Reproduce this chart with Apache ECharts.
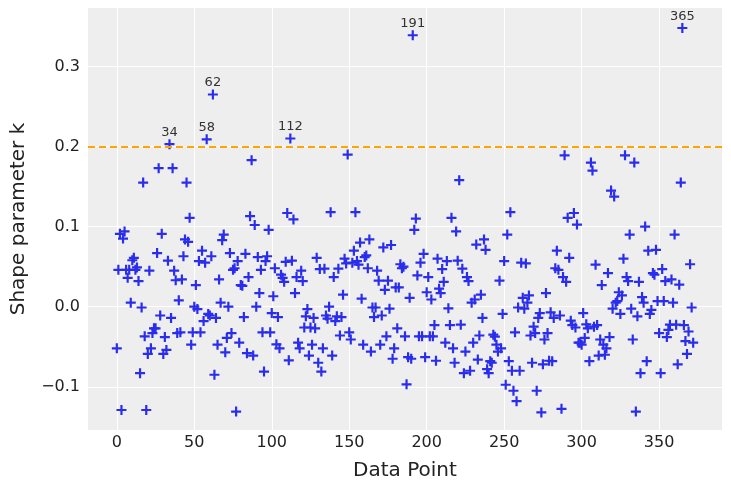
<!DOCTYPE html>
<html>
<head>
<meta charset="utf-8">
<script src="https://cdn.jsdelivr.net/npm/echarts@6/dist/echarts.min.js"></script>
<style>html,body{margin:0;padding:0;background:#fff}#c{width:731px;height:491px}</style>
</head>
<body>
<div id="c"></div>
<script>
// Pareto shape parameter k for each data point (index = position)
const kValues = [
  -0.052, 0.046, 0.091, -0.129, 0.085, 0.094, 0.046, 0.036, 0.046, 0.005,
  0.058, 0.061, 0.046, 0.049, 0.032, -0.083, -0.001, 0.155, -0.037, -0.129,
  -0.059, 0.045, -0.052, -0.033, -0.027,
  -0.027, 0.067, 0.173, -0.011, 0.091, -0.059, -0.038, -0.054, 0.0575, 0.203,
  -0.014, 0.173, 0.045, 0.033, -0.033, 0.008, -0.032, 0.034, 0.063, 0.084,
  0.155, 0.081, 0.111, -0.0475, -0.032, 0.000, 0.027, -0.003, 0.057, -0.032,
  0.070, -0.018, 0.055,
  0.209, -0.009, -0.011, 0.063, 0.265, -0.085, -0.014, -0.0475, 0.034, 0.005,
  0.083, 0.090, -0.057, -0.039, 0.000, 0.067, -0.033, 0.046, 0.048, -0.131,
  0.057, -0.045, 0.027, 0.026, -0.013, 0.066, -0.058, 0.037, 0.113, 0.183,
  -0.061, 0.102,
  0.000, 0.062, 0.017, 0.046, -0.032, -0.081, 0.057, 0.063, 0.096, -0.032,
  -0.008, 0.013, 0.048, -0.047, -0.013, -0.052, 0.040, 0.036, 0.031, 0.056,
  0.117, -0.067, 0.210, 0.0575, 0.109, 0.017, 0.037, -0.045, -0.052, 0.045,
  0.032,
  -0.026, -0.012, -0.003, -0.061, -0.026, -0.0475, -0.014, -0.027, 0.061, -0.070,
  0.047, -0.081, -0.052, 0.0475, -0.011, -0.015, 0.000, 0.118, -0.061, 0.037,
  -0.018, -0.012, 0.0475, -0.036, -0.013, 0.015, 0.060, 0.054, 0.190, -0.032,
  -0.041,
  0.055, 0.070, 0.118, 0.057, 0.0525, 0.080, 0.010, -0.0475, 0.062, 0.064,
  0.048, 0.084, -0.056, -0.001, -0.013, -0.001, 0.045, 0.0325, -0.0475, -0.011,
  0.074, 0.021, -0.037, 0.0325, -0.0025, 0.077, -0.065, -0.052, 0.024, -0.027,
  0.024,
  0.053, 0.048, 0.050, -0.037, -0.097, -0.063, 0.011, -0.065, 0.339, 0.096,
  0.110, 0.039, -0.037, 0.055, -0.037, 0.066, -0.063, 0.018, 0.037, -0.037,
  0.009, -0.037, -0.023, -0.0675, 0.060, 0.0225, 0.017, 0.047, 0.031, -0.045,
  0.057, -0.002,
  -0.023, 0.111, -0.052, -0.070, 0.094, 0.0575, 0.158, -0.0225, 0.0475, -0.083,
  -0.056, 0.037, 0.032, -0.080, 0.005, -0.045, 0.009, 0.0775, -0.066, -0.036,
  0.015, -0.014, 0.084, 0.071, -0.078, -0.083, -0.068, -0.070, -0.035, -0.0375,
  -0.0475, -0.056,
  0.0325, -0.052, -0.009, 0.057, -0.0975, 0.090, -0.068, 0.118, -0.080, -0.105,
  -0.032, -0.118, -0.001, -0.080, 0.055, 0.011, -0.0025, 0.054, 0.005, 0.014,
  -0.036, -0.070, -0.025, -0.033, -0.105, -0.014, -0.008, -0.132, -0.072, -0.041,
  0.017,
  -0.033, -0.0675, -0.007, -0.068, -0.014, 0.048, 0.070, 0.046, -0.011, -0.1275,
  0.037, 0.189, 0.031, 0.111, 0.061, -0.0175, -0.023, 0.117, -0.026, 0.1025,
  -0.045, -0.045, -0.0475, -0.008, -0.039, -0.022, -0.027, -0.068, 0.180, 0.170,
  -0.025,
  0.0525, -0.023, -0.061, -0.041, 0.027, -0.0475, -0.060, -0.052, 0.042, -0.038,
  0.145, -0.0025, 0.1375, 0.005, 0.007, 0.018, -0.009, 0.014, 0.060, 0.189,
  0.037, 0.032, 0.090, -0.0025, -0.041, 0.180, -0.131, -0.012, 0.031, -0.083,
  0.012, 0.005,
  0.100, -0.068, 0.070, -0.009, -0.004, 0.042, 0.040, 0.071, 0.007, -0.033,
  -0.083, 0.047, 0.007, 0.032, -0.038, -0.029, -0.0225, 0.034, 0.005, 0.090,
  -0.0225, -0.072, 0.0275, 0.155, 0.348, -0.023, -0.043, -0.059, -0.031, 0.053,
  -0.001, -0.045
];
const threshold = 0.2015;
const xTicks = [0, 50, 100, 150, 200, 250, 300, 350];
const yTicks = [-0.1, 0.0, 0.1, 0.2, 0.3];
const xTitle = 'Data Point';
const yTitle = 'Shape parameter k';

const FONT = 'DejaVu Sans';
const plus = 'path://M3.9,0 H6.1 V3.9 H10 V6.1 H6.1 V10 H3.9 V6.1 H0 V3.9 H3.9 Z';

const chart = echarts.init(document.getElementById('c'), null, {renderer: 'canvas'});
chart.setOption({
  animation: false,
  backgroundColor: '#ffffff',
  grid: {left: 88, top: 8, width: 634, height: 422, show: true, backgroundColor: '#eeeeee', borderWidth: 0},
  xAxis: {
    type: 'value', min: -18.6, max: 390.6,
    name: xTitle, nameLocation: 'middle', nameGap: 31,
    nameTextStyle: {fontFamily: FONT, fontSize: 20, color: '#222'},
    axisLine: {show: false},
    axisTick: {show: false, customValues: xTicks},
    axisLabel: {customValues: xTicks, fontFamily: FONT, fontSize: 16, color: '#222', margin: 5},
    splitLine: {show: true, lineStyle: {color: '#ffffff', width: 1}}
  },
  yAxis: {
    type: 'value', min: -0.154, max: 0.373,
    name: yTitle, nameLocation: 'middle', nameGap: 59, nameRotate: 90,
    nameTextStyle: {fontFamily: FONT, fontSize: 20, color: '#222'},
    axisLine: {show: false},
    axisTick: {show: false, customValues: yTicks},
    axisLabel: {customValues: yTicks, fontFamily: FONT, fontSize: 16, color: '#222', margin: 8,
      formatter: v => (v < 0 ? '\u2212' : '') + Math.abs(v).toFixed(1)},
    splitLine: {show: true, lineStyle: {color: '#ffffff', width: 1}}
  },
  series: [{
    type: 'scatter',
    symbol: plus,
    symbolSize: 10,
    itemStyle: {color: '#2a2eec', opacity: 1},
    data: kValues.map((v, i) => ({
      value: [i, v],
      label: v > threshold ? {show: true, position: 'top', distance: 0, formatter: String(i),
        fontFamily: FONT, fontSize: 13, color: '#333'} : {show: false}
    })),
    markLine: {
      silent: true, symbol: 'none', label: {show: false},
      lineStyle: {color: '#ffa500', type: [7, 4], width: 2, opacity: 1},
      data: [{yAxis: threshold}]
    },
    z: 3
  }]
});
</script>
</body>
</html>
